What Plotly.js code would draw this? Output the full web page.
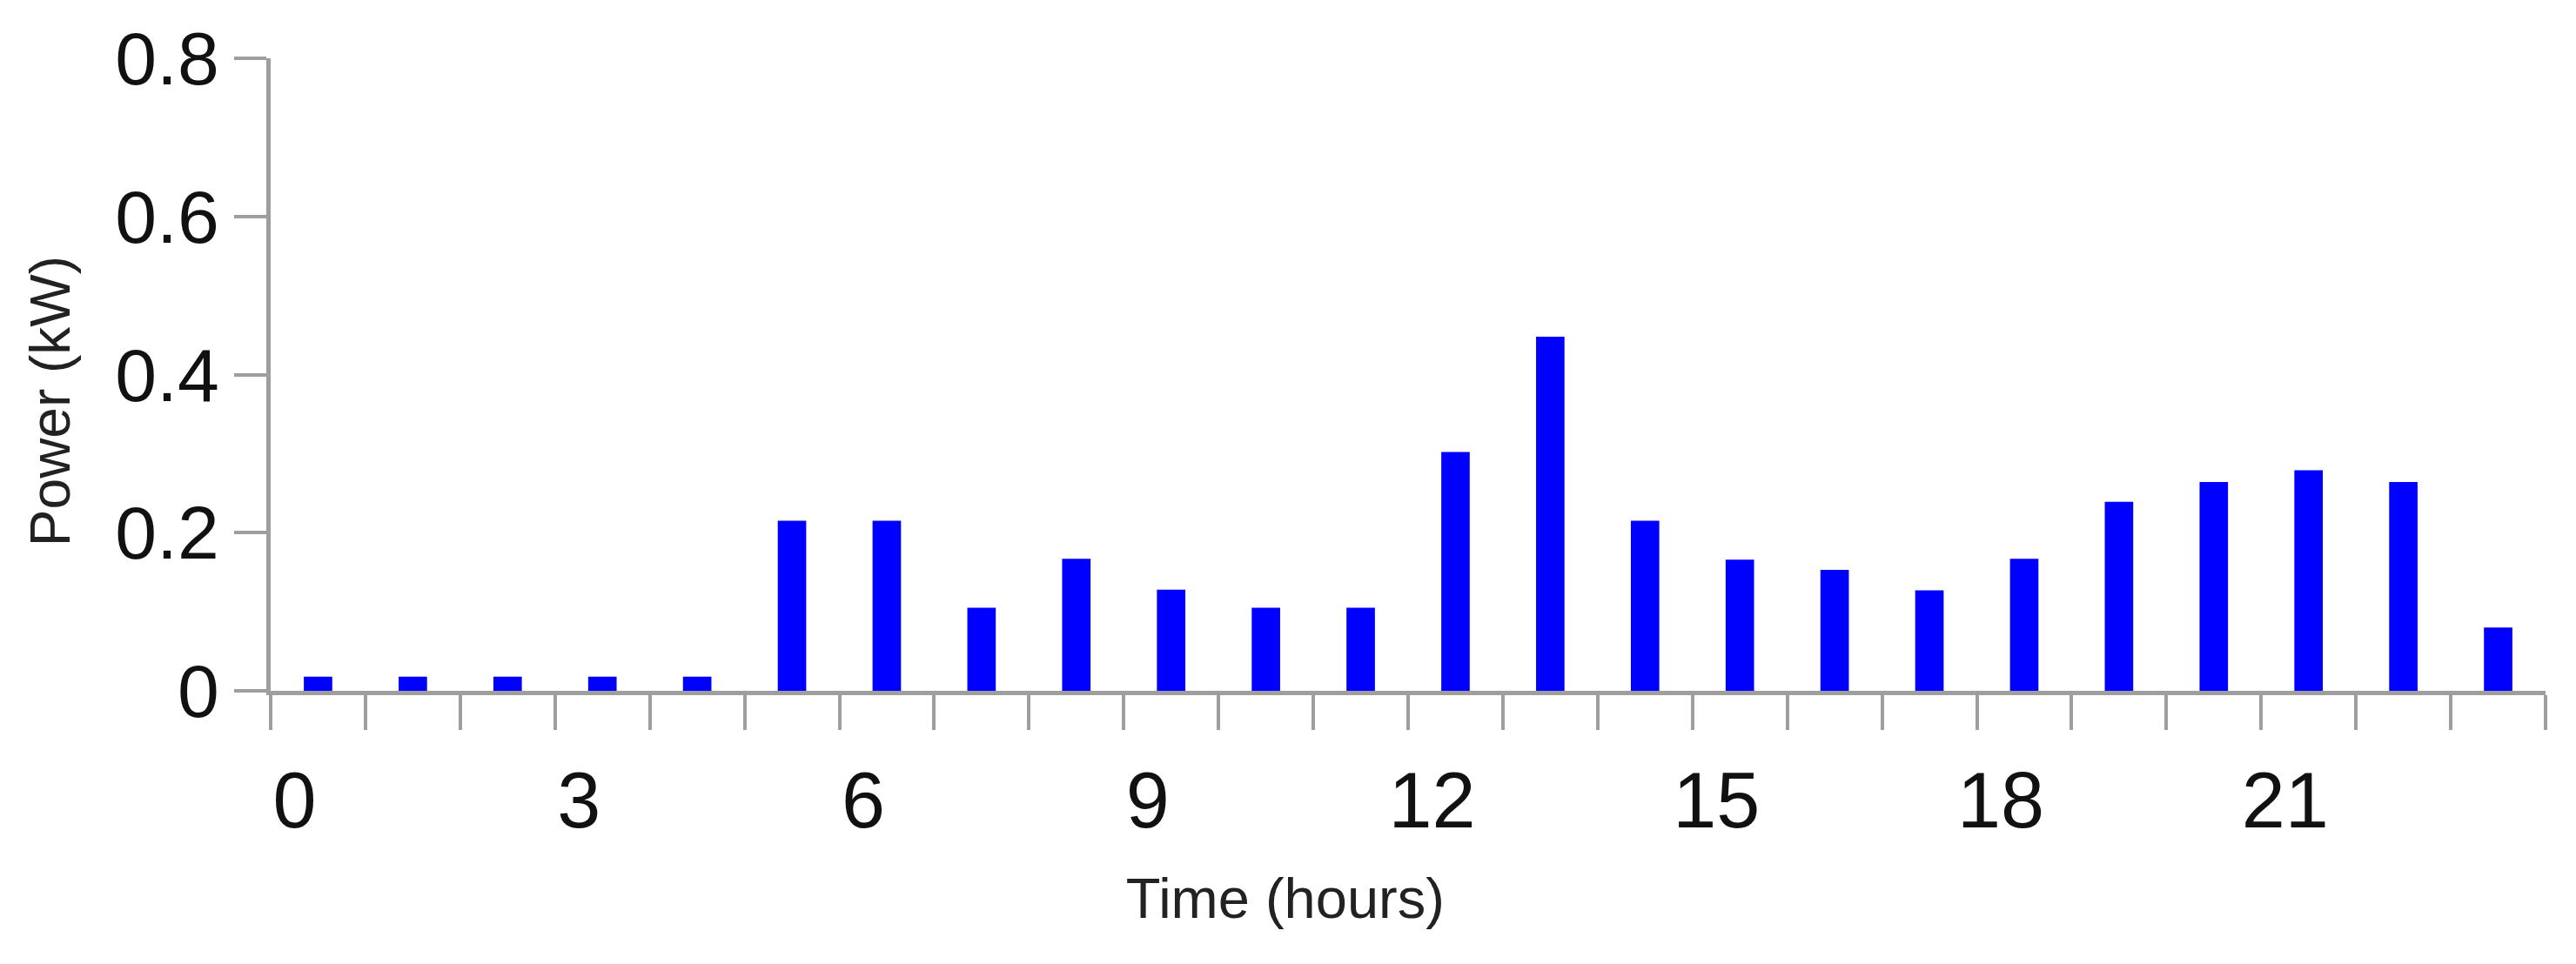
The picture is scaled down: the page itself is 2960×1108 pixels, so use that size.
<!DOCTYPE html>
<html>
<head>
<meta charset="utf-8">
<script src="https://cdn.plot.ly/plotly-3.0.1.min.js"></script>
<style>
  html, body { margin: 0; padding: 0; background: #ffffff; }
  #chart { width: 2960px; height: 1108px; }
</style>
</head>
<body>
<div id="chart"></div>
<script>
// Hour of day (categories)
const hours = ['0','1','2','3','4','5','6','7','8','9','10','11',
               '12','13','14','15','16','17','18','19','20','21','22','23'];
// Power demand (kW) per hour
const power = [0.018, 0.018, 0.018, 0.018, 0.018, 0.215, 0.215, 0.105,
               0.167, 0.128, 0.105, 0.105, 0.302, 0.448, 0.215, 0.166,
               0.153, 0.127, 0.167, 0.239, 0.264, 0.279, 0.264, 0.080];
// x tick labels (every third hour)
const xTickLabels = ['0','','','3','','','6','','','9','','',
                     '12','','','15','','','18','','','21','',''];
// y ticks
const yTickVals = [0, 0.2, 0.4, 0.6, 0.8];
const yTickText = ['0', '0.2', '0.4', '0.6', '0.8'];

const axisGray = '#9e9e9e';
const fontFam = 'Liberation Sans, Arial, sans-serif';

const traces = [
  {
    type: 'bar',
    x: hours,
    y: power,
    marker: { color: '#0000ff', line: { width: 0 } },
    showlegend: false,
    hoverinfo: 'x+y'
  },
  {
    // empty helper trace: carries the offset axis titles only
    type: 'scatter',
    x: [], y: [],
    xaxis: 'x2', yaxis: 'y2',
    showlegend: false,
    hoverinfo: 'skip'
  }
];

const layout = {
  width: 2960,
  height: 1108,
  paper_bgcolor: '#ffffff',
  plot_bgcolor: 'rgba(0,0,0,0)',
  margin: { l: 311, r: 35, t: 67, b: 314 },
  bargap: 0.70,
  showlegend: false,
  font: { family: fontFam, color: '#111111' },
  xaxis: {
    type: 'category',
    range: [-0.5, 23.5],
    tickson: 'boundaries',
    tickmode: 'array',
    tickvals: hours,
    ticktext: xTickLabels,
    ticks: 'outside',
    ticklen: 40,
    tickwidth: 4,
    tickcolor: axisGray,
    showline: true,
    linewidth: 5,
    linecolor: axisGray,
    showgrid: false,
    zeroline: false,
    tickangle: 0,
    ticklabelshift: -27,
    ticklabelstandoff: 44,
    tickfont: { family: fontFam, size: 90, color: '#111111' }
  },
  yaxis: {
    range: [0, 0.8],
    tickmode: 'array',
    tickvals: yTickVals,
    ticktext: yTickText,
    ticks: 'outside',
    ticklen: 37,
    tickwidth: 4,
    tickcolor: axisGray,
    showline: true,
    linewidth: 5,
    linecolor: axisGray,
    showgrid: false,
    zeroline: false,
    tickfont: { family: fontFam, size: 86, color: '#111111' }
  },
  xaxis2: {
    domain: [0, 0.892],
    anchor: 'y2',
    type: 'linear',
    range: [0, 1],
    showline: false,
    showgrid: false,
    zeroline: false,
    ticks: '',
    showticklabels: false,
    title: {
      text: 'Time (hours)',
      font: { family: fontFam, size: 65, color: '#222222' },
      standoff: 215
    }
  },
  yaxis2: {
    domain: [0, 0.916],
    anchor: 'x2',
    type: 'linear',
    range: [0, 1],
    showline: false,
    showgrid: false,
    zeroline: false,
    ticks: '',
    showticklabels: false,
    title: {
      text: 'Power (kW)',
      font: { family: fontFam, size: 64, color: '#222222' },
      standoff: 208
    }
  }
};

Plotly.newPlot('chart', traces, layout, { displayModeBar: false, staticPlot: true });
</script>
</body>
</html>
